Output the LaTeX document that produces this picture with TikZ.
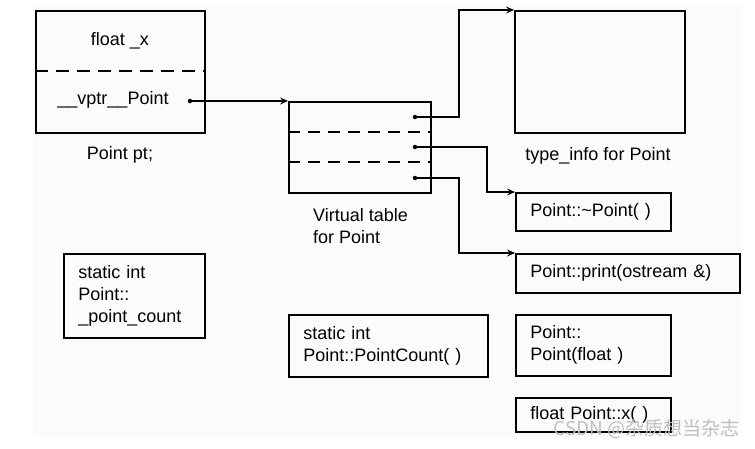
\documentclass[tikz,border=0pt]{standalone}
\usepackage{fontspec}
\setmainfont{Liberation Sans}
\newfontfamily\cjk{Noto Sans CJK SC}
\usetikzlibrary{arrows.meta}
\begin{document}
\begin{tikzpicture}[x=1pt,y=-1pt,
  box/.style={draw, line width=1.5pt, inner xsep=14.5pt, inner ysep=0pt, align=left,
    font=\fontsize{18}{22}\selectfont, anchor=north west},
  lbl/.style={font=\fontsize{18}{22}\selectfont, inner sep=0pt},
  conn/.style={line width=1.4pt, -{Stealth[length=8pt,width=7pt,inset=3pt]}},
  dotn/.style={circle, fill, inner sep=0pt, minimum size=4.5pt},
  dsh/.style={line width=1.3pt, dash pattern=on 13pt off 8pt}]
\useasboundingbox (0,0) rectangle (755,448);
\fill[black!1.5] (33,5) rectangle (741,437);

% Point pt object
\node[box, minimum width=169pt, minimum height=122pt] (pt) at (35,10) {};
\draw[dsh] (35,71) -- (204,71);
\node[lbl] (fx) at (120,41) {float \_x};
\node[lbl] (vp) at (113,100) {\_\_vptr\_\_Point};
\node[dotn] (d0) at (190,101) {};
\node[lbl] (ptl) at (120,155) {Point pt;};

% virtual table
\node[box, minimum width=142pt, minimum height=91pt] (vt) at (288,101) {};
\draw[dsh, dash pattern=on 12pt off 8pt] (288,132) -- (430,132);
\draw[dsh, dash pattern=on 12pt off 8pt] (288,162) -- (430,162);
\node[dotn] (d1) at (415,117) {};
\node[dotn] (d2) at (415,147) {};
\node[dotn] (d3) at (415,178) {};
\node[lbl, align=left, anchor=north west] (vtl) at (313,208) {Virtual table\\for Point};

% type_info
\node[box, minimum width=170pt, minimum height=122pt] (ti) at (514,10) {};
\node[lbl] (til) at (598,156) {type\_info for Point};

% function boxes
\node[box, text width=126pt, minimum height=38pt] (dtor) at (515,192) {Point::\string~Point( )};
\node[box, text width=195pt, minimum height=39pt] (prt) at (515,253) {Point::print(ostream \&)};
\node[box, text width=126pt, minimum height=61pt] (ctor) at (515,314) {Point::\\Point(float )};
\node[box, text width=126pt, minimum height=34pt] (fx2) at (515,397) {float Point::x( )};
\node[box, text width=112pt, minimum height=84pt] (spc) at (63,253) {static int\\Point::\\\_point\_count};
\node[box, text width=170pt, minimum height=62pt] (spf) at (288,314) {static int\\Point::PointCount( )};

% connectors
\coordinate (j1) at (459,0);
\coordinate (j2) at (487,0);
\draw[conn] (d0.center) -- (vt.north west);
\draw[conn] (d1.center) -- (d1 -| j1) |- (ti.north west);
\draw[conn] (d2.center) -- (d2 -| j2) |- (dtor.north west);
\draw[conn] (d3.center) -- (d3 -| j1) |- (prt.north west);

% watermark
\node[font=\cjk\fontsize{19}{22}\selectfont, text=black!25, anchor=east, inner sep=0pt] (wm) at (740,429) {CSDN @杂质想当杂志};
\end{tikzpicture}
\end{document}
